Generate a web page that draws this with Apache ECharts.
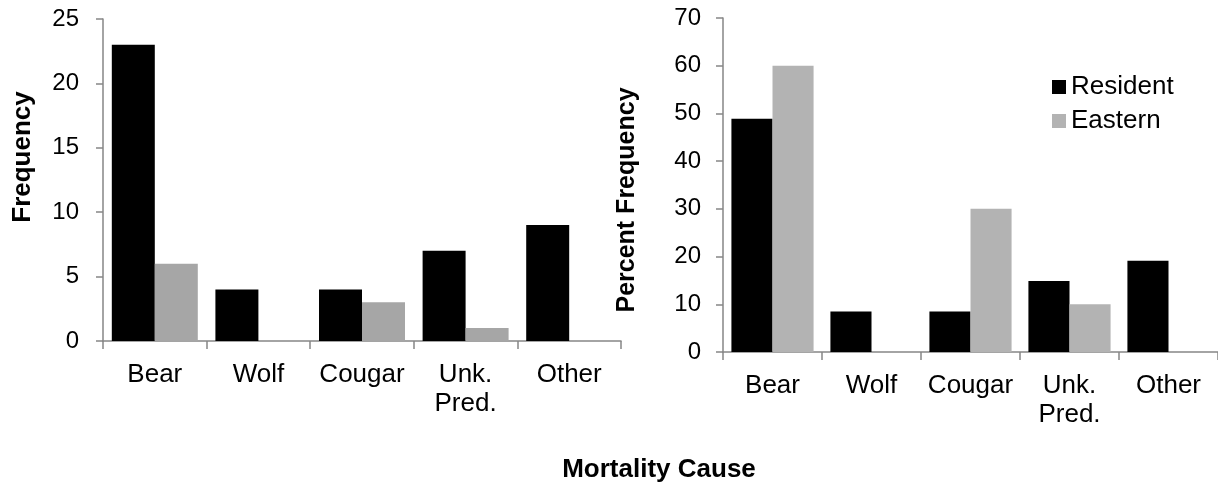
<!DOCTYPE html>
<html>
<head>
<meta charset="utf-8">
<script src="https://cdn.jsdelivr.net/npm/echarts@6/dist/echarts.min.js"></script>
<style>
  html, body { margin: 0; padding: 0; background: #fff; }
  #main { width: 1218px; height: 486px; }
</style>
</head>
<body>
<div id="main"></div>
<script>
// mortality cause, resident vs eastern
var categories = ["Bear", "Wolf", "Cougar", "Unk.\nPred.", "Other"];
var residentCount = [23, 4, 4, 7, 9];
var easternCount = [6, 0, 3, 1, 0];
var residentPct = [48.9, 8.5, 8.5, 14.9, 19.1];
var easternPct = [60, 0, 30, 10, 0];

var fontName = "'Liberation Sans', Arial, sans-serif";
var axisColor = "#868686";

function catAxis(idx) {
  return {
    type: "category",
    gridIndex: idx,
    data: categories,
    boundaryGap: true,
    axisLine: { lineStyle: { color: axisColor, width: 1.5 } },
    axisTick: { show: true, length: 8, lineStyle: { color: axisColor, width: 1.5 } },
    axisLabel: {
      color: "#000",
      fontSize: 26,
      fontFamily: fontName,
      margin: 19,
      lineHeight: 29,
      interval: 0
    }
  };
}

function valAxis(idx, max, step, gap) {
  return {
    type: "value",
    gridIndex: idx,
    min: 0,
    max: max,
    interval: step,
    splitLine: { show: false },
    axisLine: { show: true, lineStyle: { color: axisColor, width: 1.5 } },
    axisTick: { show: true, length: 7, lineStyle: { color: axisColor, width: 1.5 } },
    axisLabel: {
      color: "#000",
      fontSize: 24,
      fontFamily: fontName,
      margin: gap
    }
  };
}

var myChart = echarts.init(document.getElementById("main"));
myChart.setOption({
  animation: false,
  grid: [
    { left: 103, top: 19, width: 518, height: 322 },
    { left: 723, top: 18, width: 500, height: 334 }
  ],
  xAxis: [catAxis(0), catAxis(1)],
  yAxis: [valAxis(0, 25, 5, 24), valAxis(1, 70, 10, 22)],
  legend: {
    orient: "vertical",
    left: 1052,
    top: 74,
    padding: 0,
    itemWidth: 14,
    itemHeight: 14,
    itemGap: 8,
    icon: "rect",
    textStyle: { color: "#000", fontSize: 26, fontFamily: fontName },
    data: [
      { name: "Resident", itemStyle: { color: "#000" } },
      { name: "Eastern", itemStyle: { color: "#b3b3b3" } }
    ]
  },
  series: [
    {
      name: "Resident", type: "bar", xAxisIndex: 0, yAxisIndex: 0,
      data: residentCount, barGap: "0%", barCategoryGap: "17%",
      itemStyle: { color: "#000" }
    },
    {
      name: "Eastern", type: "bar", xAxisIndex: 0, yAxisIndex: 0,
      data: easternCount, barGap: "0%", barCategoryGap: "17%",
      itemStyle: { color: "#a6a6a6" }
    },
    {
      name: "Resident", type: "bar", xAxisIndex: 1, yAxisIndex: 1,
      data: residentPct, barGap: "0%", barCategoryGap: "17%",
      itemStyle: { color: "#000" }
    },
    {
      name: "Eastern", type: "bar", xAxisIndex: 1, yAxisIndex: 1,
      data: easternPct, barGap: "0%", barCategoryGap: "17%",
      itemStyle: { color: "#b3b3b3" }
    }
  ],
  graphic: [
    {
      type: "text", x: 23, y: 157, rotation: Math.PI / 2,
      style: { text: "Frequency", font: "bold 26px " + fontName, fill: "#000", align: "center", verticalAlign: "middle" }
    },
    {
      type: "text", x: 627, y: 200, rotation: Math.PI / 2,
      style: { text: "Percent Frequency", font: "bold 25px " + fontName, fill: "#000", align: "center", verticalAlign: "middle" }
    },
    {
      type: "text", x: 659, y: 470,
      style: { text: "Mortality Cause", font: "bold 26px " + fontName, fill: "#000", align: "center", verticalAlign: "middle" }
    }
  ]
});
</script>
</body>
</html>
